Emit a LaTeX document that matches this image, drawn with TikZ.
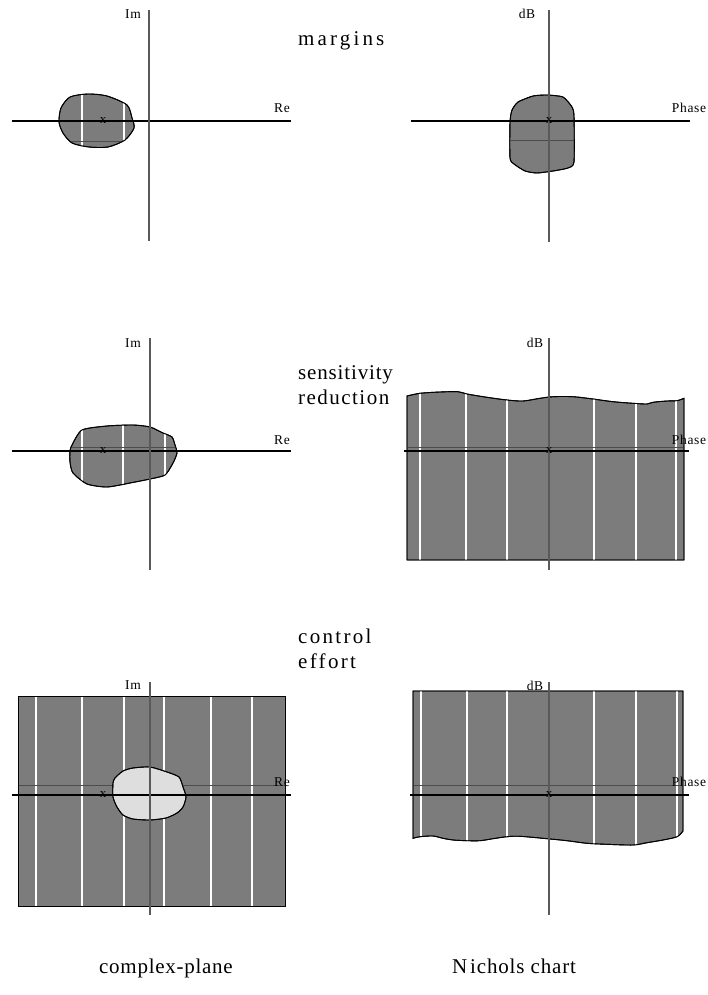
\documentclass[tikz,border=0pt]{standalone}
\usepackage{fontspec}
\setmainfont{Liberation Serif}
\newfontfamily\axisfont[LetterSpace=5]{Liberation Serif}
\newfontfamily\wideA[LetterSpace=15]{Liberation Serif}
\newfontfamily\wideB[LetterSpace=4]{Liberation Serif}
\newfontfamily\wideC[LetterSpace=7]{Liberation Serif}
\newfontfamily\wideD[LetterSpace=11]{Liberation Serif}
\newfontfamily\wideE[LetterSpace=3.5]{Liberation Serif}
\newfontfamily\wideF[LetterSpace=4]{Liberation Serif}
\definecolor{shade}{RGB}{124,124,124}
\definecolor{lightshade}{RGB}{222,222,222}
\definecolor{vaxis}{RGB}{90,90,90}
\tikzset{
  haxis/.style={draw=black, line width=1.2pt},
  vaxisline/.style={draw=vaxis, line width=1.4pt},
  region/.style={fill=shade, draw=black, line width=0.9pt},
  hole/.style={fill=lightshade, draw=black, line width=0.9pt},
  stripe/.style={draw=white, line width=1.1pt},
  seam/.style={draw=black!70, line width=0.7pt},
  axislabel/.style={font=\axisfont\fontsize{13.5}{13.5}\selectfont, inner sep=0pt},
  title/.style={font=\fontsize{21}{25}\selectfont, inner sep=0pt, align=left},
  pole/.style={font=\fontsize{13}{13}\selectfont, inner sep=0pt}
}
\begin{document}
\begin{tikzpicture}[x=1pt,y=-1pt]
\useasboundingbox (0,0) rectangle (707,995);

% ---------- shapes of the regions ----------
\def\blobA{plot[smooth cycle, tension=0.45] coordinates {(59,122) (61,108) (70,97) (88,94) (107,96) (127,105) (132,118) (134,128) (125,140) (108,147) (89,147) (72,143) (63,133)}}
\def\blobB{plot[smooth cycle, tension=0.35] coordinates {(510,122) (512,110) (518,102) (533,96) (547,95) (563,97) (572,107) (574,116) (574,162) (568,168) (553,171) (537,173) (525,171) (514,164) (510,158)}}
\def\blobC{plot[smooth cycle, tension=0.4] coordinates {(70,451) (72,445) (82,430) (107,426) (133,425) (150,427) (163,433) (172,437) (175,445) (177,453) (173,463) (165,475) (150,479) (130,483) (107,487) (87,484) (73,473) (70,462)}}
\def\bandD{(407,396) -- plot[smooth, tension=0.5] coordinates {(407,396) (420,393.3) (440,392) (458,391.7) (467,394) (487,397.3) (507,400) (523,401) (540,398.3) (553,396.7) (573,396.7) (593,399) (613,401.7) (633,403.3) (647,404) (653,402.3) (667,401) (677,400.7) (684,398.3)} -- (684,560) -- (407,560) -- cycle}
\def\holeE{plot[smooth cycle, tension=0.4] coordinates {(113,783) (115,778) (123,771) (133,768) (150,767) (167,772) (179,777) (183,787) (186,797) (183,807) (177,813) (166,818) (150,820) (133,819) (123,815) (117,807) (113,797)}}
\def\bandF{(413,691) -- (683,691) -- (683,831) -- plot[smooth, tension=0.5] coordinates {(683,831) (677,836.7) (663,840) (647,842.7) (633,845) (607,844.3) (587,843.3) (567,840.7) (547,838.7) (520,836.3) (507,836.7) (493,838.7) (480,840.7) (467,840.7) (453,840) (443,838.3) (433,836) (420,836.7) (413,838.3)} -- cycle}

% ---------- row 1: margins ----------
\path[region] \blobA;
\begin{scope}
  \clip \blobA;
  \draw[stripe] (82,80) -- (82,160) (124,80) -- (124,160);
  \draw[seam] (60,141) -- (124,141);
\end{scope}
\draw[black, line width=0.9pt] \blobA;
\draw[haxis] (12,121) -- (291,121);
\draw[vaxisline] (149,10) -- (149,241);
\node[pole] (p1) at (103,121) {x};
\node[axislabel] (im1) at (133,14) {Im};
\node[axislabel] (re1) at (282,108) {Re};

\path[region] \blobB;
\begin{scope}
  \clip \blobB;
  \draw[seam] (505,140) -- (580,140);
\end{scope}
\draw[black, line width=0.9pt] \blobB;
\draw[haxis] (411,121) -- (690,121);
\draw[vaxisline] (549,10) -- (549,242);
\node[pole] (p2) at (549,121) {x};
\node[axislabel] (db1) at (527,14) {dB};
\node[axislabel] (ph1) at (689,108) {Phase};

\node[title, anchor=base west] (t1) at (298,46) {\wideA margins};

% ---------- row 2: sensitivity reduction ----------
\path[region] \blobC;
\begin{scope}
  \clip \blobC;
  \draw[stripe] (82,410) -- (82,500) (123,410) -- (123,500) (165,410) -- (165,500);
  \draw[seam] (65,447) -- (180,447);
\end{scope}
\draw[black, line width=0.9pt] \blobC;
\draw[haxis] (12,451) -- (291,451);
\draw[vaxisline] (150,338) -- (150,570);
\node[pole] (p3) at (103,451) {x};
\node[axislabel] (im2) at (133,343) {Im};
\node[axislabel] (re2) at (282,440) {Re};

\path[region] \bandD;
\begin{scope}
  \clip \bandD;
  \draw[stripe] (420,380) -- (420,570) (466,380) -- (466,570) (507,380) -- (507,570)
                (594,380) -- (594,570) (636,380) -- (636,570) (676,380) -- (676,570);
  \draw[seam] (400,447) -- (690,447);
\end{scope}
\draw[black, line width=0.9pt] \bandD;
\draw[haxis] (404,451) -- (689,451);
\draw[vaxisline] (549,338) -- (549,570);
\node[pole] (p4) at (549,451) {x};
\node[axislabel] (db2) at (535,343) {dB};
\node[axislabel] (ph2) at (689,440) {Phase};

\node[title, anchor=base west] (t2a) at (298,379) {\wideB sensitivity};
\node[title, anchor=base west] (t2b) at (298,404) {\wideC reduction};

% ---------- row 3: control effort ----------
\path[region] (18,696) rectangle (285,906);
\begin{scope}
  \clip (18,696) rectangle (285,906);
  \draw[stripe] (36,690) -- (36,910) (82,690) -- (82,910) (124,690) -- (124,910)
                (164,690) -- (164,910) (211,690) -- (211,910) (252,690) -- (252,910);
  \draw[seam] (18,785) -- (285,785);
\end{scope}
\draw[black, line width=0.9pt] (18,696) rectangle (285,906);
\path[hole] \holeE;
\draw[black, line width=0.9pt] \holeE;
\draw[haxis] (12,795) -- (291,795);
\draw[vaxisline] (150,682) -- (150,915);
\node[pole] (p5) at (103,795) {x};
\node[axislabel] (im3) at (133,685) {Im};
\node[axislabel] (re3) at (282,782) {Re};

\path[region] \bandF;
\begin{scope}
  \clip \bandF;
  \draw[stripe] (421,680) -- (421,860) (467,680) -- (467,860) (507,680) -- (507,860)
                (594,680) -- (594,860) (636,680) -- (636,860) (677,680) -- (677,860);
  \draw[seam] (413,785) -- (683,785);
\end{scope}
\draw[black, line width=0.9pt] \bandF;
\draw[haxis] (410,795) -- (689,795);
\draw[vaxisline] (549,682) -- (549,915);
\node[pole] (p6) at (549,795) {x};
\node[axislabel] (db3) at (535,686) {dB};
\node[axislabel] (ph3) at (689,782) {Phase};

\node[title, anchor=base west] (t3a) at (298,643) {\wideD control};
\node[title, anchor=base west] (t3b) at (298,668) {\wideD effort};

% ---------- column captions ----------
\node[title, anchor=base] (c1) at (166,973) {\wideE complex-plane};
\node[title, anchor=base] (c2) at (514,973) {\wideF N\kern3pt ichols chart};
\end{tikzpicture}
\end{document}
